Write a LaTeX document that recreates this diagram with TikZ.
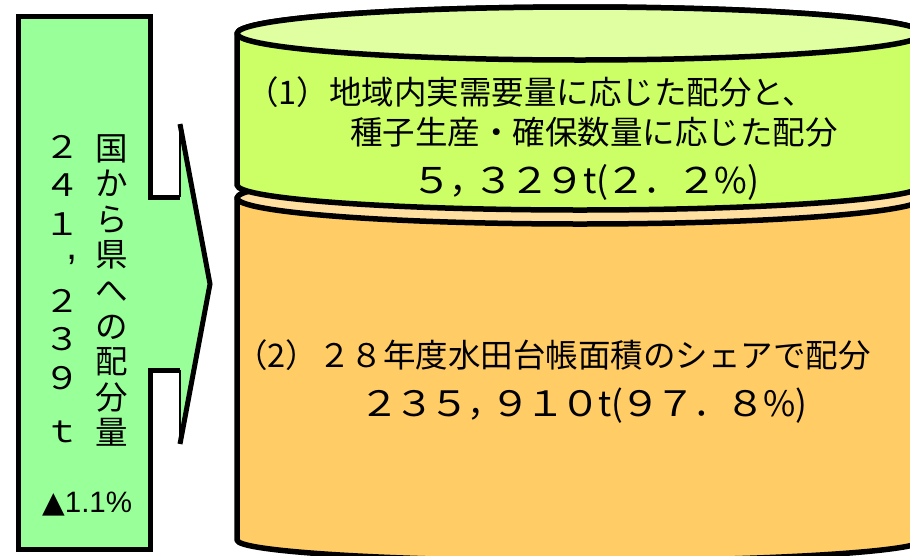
\documentclass[tikz,border=0pt]{standalone}
\usepackage{fontspec}
\newfontfamily\jp{Noto Sans CJK JP}
\newfontfamily\dv{DejaVu Sans}
\newfontfamily\ls{Liberation Sans}
\definecolor{arrowfill}{HTML}{99FF99}
\definecolor{greenbody}{HTML}{CCFF66}
\definecolor{greentop}{HTML}{E0FFA0}
\definecolor{orangebody}{HTML}{FFCC66}
\definecolor{orangetop}{HTML}{FFE0A0}
\newcommand\fwd[1]{\makebox[1em]{\scalebox{1.15}[1]{#1}}}
\tikzset{
  cyl/.style={draw=black, line width=5.5pt, line join=round},
  arrowline/.style={draw=black, line width=5pt, line join=miter},
  thinline/.style={draw=black, line width=1.2pt},
  jline/.style={inner sep=0pt, anchor=west, font=\jp\fontsize{32.5}{36}\selectfont},
  numline/.style={inner sep=0pt, anchor=base, font=\jp\fontsize{#1}{#1}\selectfont},
}
\begin{document}
\begin{tikzpicture}[x=1pt,y=-1pt]
\useasboundingbox (0,0) rectangle (910,555);
\clip (0,0) rectangle (910,555);
% lower (orange) cylinder
\path[cyl, fill=orangebody] (237,198) -- (237,540)
  arc[start angle=180, end angle=0, x radius=343, y radius=21]
  -- (923,198)
  arc[start angle=0, end angle=-180, x radius=343, y radius=26] -- cycle;
\path[cyl, fill=orangetop] (580,198) ellipse [x radius=343, y radius=26];
% upper (green) cylinder
\path[cyl, fill=greenbody] (237,33.5) -- (237,185)
  arc[start angle=180, end angle=0, x radius=343, y radius=25]
  -- (923,33.5)
  arc[start angle=0, end angle=-180, x radius=343, y radius=26.5] -- cycle;
\path[cyl, fill=greentop] (580,33.5) ellipse [x radius=343, y radius=26.5];
% arrow
\path[fill=arrowfill] (18,16) -- (150,16) -- (150,197) -- (180,197) -- (180,124)
  -- (210,284) -- (180,444) -- (180,370) -- (150,370) -- (150,549) -- (18,549) -- cycle;
\draw[arrowline] (180,370) -- (150,370) -- (150,549) -- (18,549) -- (18,16)
  -- (150,16) -- (150,197) -- (180,197);
\draw[arrowline] (180,124) -- (210,284) -- (180,444);
\draw[thinline] (180,197) -- (180,124) (180,444) -- (180,370);
% left column texts
\node[inner sep=0pt, anchor=north, align=center,
      font=\jp\fontsize{31}{38.5}\selectfont] (total) at (62,135)
  {\fwd{２}\\\fwd{４}\\\fwd{１}\\
   \makebox[0pt][l]{\hspace{4pt}\raisebox{14pt}{\ls\fontsize{40}{40}\selectfont ,}}\\
   \fwd{２}\\\fwd{３}\\\fwd{９}\\[15pt]\fwd{ｔ}};
\node[inner sep=0pt, anchor=north, align=center,
      font=\jp\fontsize{32.5}{35.6}\selectfont] (label) at (112,134)
  {国\\か\\ら\\県\\へ\\の\\配\\分\\量};
\node[inner sep=0pt, anchor=base west, font=\fontsize{29.5}{29.5}\selectfont] (rate) at (42,512)
  {{\dv ▲}{\ls 1.1\%}};
% cylinder texts
\node[jline] (l1) at (246,92) {（1）地域内実需要量に応じた配分と、};
\node[jline] (l2) at (350,132) {種子生産・確保数量に応じた配分};
\node[numline=35.5] (v1) at (587,193)
  {\fwd{５}，\kern-0.25em\fwd{３}\fwd{２}\fwd{９}t(\fwd{２}．\fwd{２}\%)};
\node[numline=35] (v2) at (585,416)
  {\fwd{２}\fwd{３}\fwd{５}，\kern-0.25em\fwd{９}\fwd{１}\fwd{０}t(\fwd{９}\fwd{７}．\fwd{８}\%)};
\node[jline] (l4) at (235,355) {（2）２８年度水田台帳面積のシェアで配分};
\end{tikzpicture}
\end{document}
